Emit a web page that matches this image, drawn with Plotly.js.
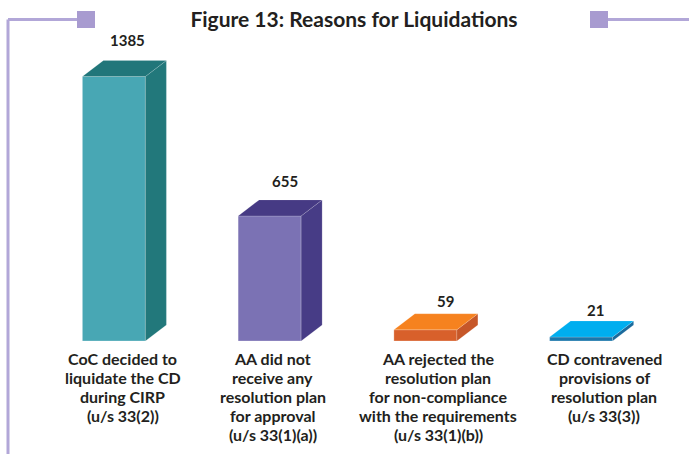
<!DOCTYPE html>
<html>
<head>
<meta charset="utf-8">
<script src="https://cdn.plot.ly/plotly-3.0.1.min.js"></script>
<style>html,body{margin:0;padding:0;background:#fff;}#chart{width:689px;height:454px;}</style>
</head>
<body>
<div id="chart"></div>
<script>
// ---- data ----
const categories = [
  "CoC decided to<br>liquidate the CD<br>during CIRP<br>(u/s 33(2))",
  "AA did not<br>receive any<br>resolution plan<br>for approval<br>(u/s 33(1)(a))",
  "AA rejected the<br>resolution plan<br>for non-compliance<br>with the requirements<br>(u/s 33(1)(b))",
  "CD contravened<br>provisions of<br>resolution plan<br>(u/s 33(3))"
];
const values = [1385, 655, 59, 21];
const valueLabels = ["1385", "655", "59", "21"];

// ---- styles ----
const frontColors = ["#48a7b4", "#7b72b4", "#d8602b", "#1b77ab"];
const sideColors  = ["#22787b", "#473c86", "#c65729", "#1a6a9c"];
const topColors   = ["#21767a", "#463a84", "#f6821f", "#00aeef"];
const labelShift  = [9, 3, 13, 23];
const valueShiftX = [3, 5, 10, 4];
const valueShiftY = [9, 8, 2, 0];

const W = 689, H = 454;
const M = {l: 36, r: 30, t: 40, b: 113};
const plotW = W - M.l - M.r, plotH = H - M.t - M.b;
const xRange = [-0.5, 3.5];
const pxPerUnit = 0.191;
const yMax = plotH / pxPerUnit;
const xPx = plotW / (xRange[1] - xRange[0]);
const barW = 63 / xPx;
const dx = 21 / xPx;
const dy = 16 / pxPerUnit;

const xs = values.map((v, i) => i);
const traces = [];
traces.push({
  type: 'bar', x: xs, y: values, width: barW,
  marker: {color: frontColors, line: {color: 'rgba(255,255,255,0.45)', width: 0.6}},
  hoverinfo: 'skip', showlegend: false
});
values.forEach((v, i) => {
  const xl = i - barW / 2, xr = i + barW / 2;
  traces.push({
    type: 'scatter', mode: 'lines', fill: 'toself', fillcolor: sideColors[i],
    x: [xr, xr + dx, xr + dx, xr, xr], y: [0, dy, v + dy, v, 0],
    line: {width: 0.6, color: 'rgba(255,255,255,0.25)'}, hoverinfo: 'skip', showlegend: false
  });
  traces.push({
    type: 'scatter', mode: 'lines', fill: 'toself', fillcolor: topColors[i],
    x: [xl, xl + dx, xr + dx, xr, xl], y: [v, v + dy, v + dy, v, v],
    line: {width: 0.6, color: 'rgba(255,255,255,0.25)'}, hoverinfo: 'skip', showlegend: false
  });
});

const font = "Lato, 'Open Sans', sans-serif";
const textColor = "#231f20";
const lineGap = 19;
const annotations = [];
values.forEach((v, i) => {
  annotations.push({
    x: i + dx / 2, y: v + dy, xref: 'x', yref: 'y', text: '<b>' + valueLabels[i] + '</b>',
    showarrow: false, yanchor: 'bottom', yshift: valueShiftY[i], xshift: valueShiftX[i],
    font: {family: font, size: 15, color: textColor}
  });
  categories[i].split('<br>').forEach((line, k) => {
    annotations.push({
      x: i, y: 0, xref: 'x', yref: 'paper', text: '<b>' + line + '</b>',
      showarrow: false, yanchor: 'middle', yshift: -17 - k * lineGap, xshift: labelShift[i], align: 'center',
      font: {family: font, size: 16, color: textColor}
    });
  });
});

const deco = '#a89bd0';
const px = x => x / W, py = y => 1 - y / H;
const shapes = [
  {type: 'line', xref: 'paper', yref: 'paper', x0: px(8), x1: px(8), y0: py(19.5), y1: py(460), line: {color: '#b2a7d8', width: 3}},
  {type: 'line', xref: 'paper', yref: 'paper', x0: px(8), x1: px(80), y0: py(19.5), y1: py(19.5), line: {color: '#b2a7d8', width: 3}},
  {type: 'rect', xref: 'paper', yref: 'paper', x0: px(77), x1: px(95), y0: py(28), y1: py(11), fillcolor: deco, line: {width: 0}},
  {type: 'line', xref: 'paper', yref: 'paper', x0: px(605), x1: px(692), y0: py(19.5), y1: py(19.5), line: {color: '#b2a7d8', width: 3}},
  {type: 'rect', xref: 'paper', yref: 'paper', x0: px(590), x1: px(608), y0: py(28), y1: py(11), fillcolor: deco, line: {width: 0}}
];
shapes.forEach(s => {
  ['x0','x1'].forEach(k => { s[k] = (s[k] * W - M.l) / plotW; });
  ['y0','y1'].forEach(k => { s[k] = ((s[k] * H) - M.b) / plotH; });
});

const layout = {
  width: W, height: H,
  margin: M,
  paper_bgcolor: '#ffffff', plot_bgcolor: 'rgba(0,0,0,0)',
  title: {text: '<b>Figure 13: Reasons for Liquidations</b>', xref: 'paper', x: (354 - M.l) / plotW, xanchor: 'center',
          yref: 'container', y: 1 - 20 / H, yanchor: 'middle',
          font: {family: font, size: 21, color: textColor}},
  xaxis: {range: xRange, visible: false, fixedrange: true},
  yaxis: {range: [0, yMax], visible: false, fixedrange: true},
  showlegend: false,
  annotations: annotations,
  shapes: shapes,
  barmode: 'overlay'
};
Plotly.newPlot('chart', traces, layout, {displayModeBar: false, staticPlot: true});
</script>
</body>
</html>
